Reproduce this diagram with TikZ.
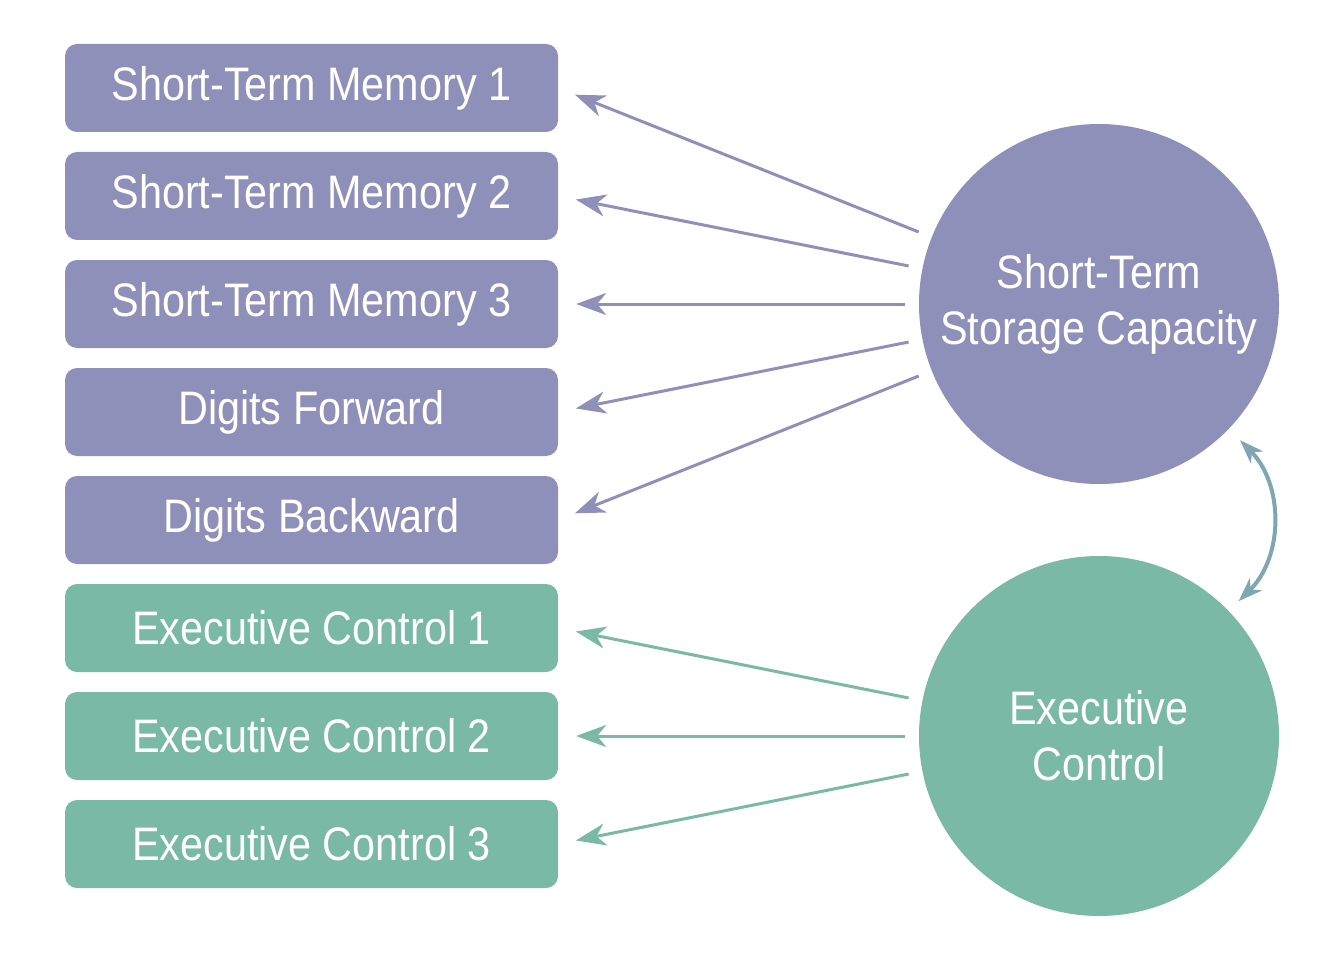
\documentclass[tikz,border=0pt]{standalone}
\usepackage{fontspec}
\setmainfont[FakeStretch=0.88]{Liberation Sans}
\usetikzlibrary{arrows.meta,calc}
\definecolor{stp}{HTML}{8F90B9}
\definecolor{exe}{HTML}{79B9A5}
\definecolor{lnk}{HTML}{7FA6B1}
\begin{document}
\begin{tikzpicture}[x=1pt,y=1pt,
  box/.style={rounded corners=12pt,minimum width=493pt,minimum height=88pt,inner sep=0pt,text=white,font=\fontsize{47}{54}\selectfont},
  big/.style={circle,minimum size=360pt,inner sep=0pt,text=white,align=center,font=\fontsize{47}{56}\selectfont},
  arr/.style={line width=3pt,-{Stealth[length=30pt,width=22pt,inset=9pt]},shorten <=14pt,shorten >=18pt}]
\useasboundingbox (0,0) rectangle (1344,-960);
\foreach \n/\y/\t in {s1/88/Short-Term Memory 1,s2/196/Short-Term Memory 2,s3/304/Short-Term Memory 3,s4/412/Digits Forward,s5/520/Digits Backward}
  \node[box,fill=stp] (\n) at (311.5,-\y) {\t};
\foreach \n/\y/\t in {e1/628/Executive Control 1,e2/736/Executive Control 2,e3/844/Executive Control 3}
  \node[box,fill=exe] (\n) at (311.5,-\y) {\t};
\node[big,fill=stp] (c1) at (1099,-304) {Short-Term\\Storage Capacity};
\node[big,fill=exe] (c2) at (1099,-736) {Executive\\Control};
\foreach \n in {s1,s2,s3,s4,s5}
  \draw[arr,stp] (c1) -- (\n.east);
\foreach \n in {e1,e2,e3}
  \draw[arr,exe] (c2) -- (\n.east);
\coordinate (p1) at ($(c1)+(-44:196)$);
\coordinate (p2) at ($(c2)+(44:194)$);
\draw[lnk,line width=4pt,{Stealth[length=24pt,width=17pt,inset=7pt]}-{Stealth[length=24pt,width=17pt,inset=7pt]}] (p1) to[bend left=45] (p2);
\end{tikzpicture}
\end{document}
